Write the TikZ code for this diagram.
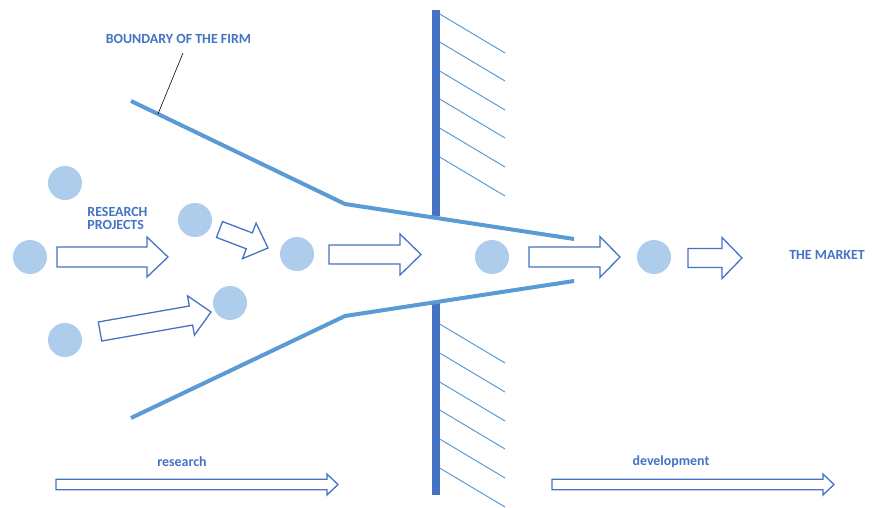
\documentclass[tikz,border=0pt]{standalone}
\usepackage{fontspec}
\setmainfont{Carlito}
\usepackage{tikz}
\usetikzlibrary{calc}
\usetikzlibrary{positioning}
\usepackage{xcolor}
\definecolor{firmblue}{RGB}{68,114,196}
\definecolor{edgeblue}{RGB}{91,155,213}
\definecolor{dotblue}{RGB}{174,204,235}

% hollow block arrow: tail, tip, half shaft, half head, head length
\newcommand{\hollowarrow}[5]{%
	\coordinate (hb) at ($(#2)!#5!(#1)$);
	\draw [fatarrow] ($(#1)!#3!90:(#2)$) -- ($(hb)!#3!90:(#2)$) -- ($(hb)!#4!90:(#2)$) -- (#2)
		-- ($(hb)!#4!-90:(#2)$) -- ($(hb)!#3!-90:(#2)$) -- ($(#1)!#3!-90:(#2)$) -- cycle;
}

\begin{document}
\begin{tikzpicture}[x=0.03cm,y=-0.03cm]

	\tikzstyle{dot} = [circle, fill=dotblue, minimum size=10.2mm, inner sep=0pt]
	\tikzstyle{fatarrow} = [draw=firmblue, fill=white, line width=1.1pt, line join=miter]
	\tikzstyle{edge} = [draw=edgeblue, line width=1.2mm]
	\tikzstyle{wall} = [draw=firmblue, line width=2.4mm]
	\tikzstyle{hatch} = [draw=edgeblue, line width=0.3mm]
	\tikzstyle{caption} = [text=firmblue, font=\fontsize{11.9}{11.2}\selectfont\bfseries, inner sep=1pt]

	\useasboundingbox (0,0) rectangle (883,508);

	% projects
	\node [dot] (p1) at (65,183) {};
	\node [dot] (p2) at (30,257) {};
	\node [dot] (p3) at (65,340) {};
	\node [dot] (p4) at (195,220) {};
	\node [dot] (p5) at (230,303) {};
	\node [dot] (p6) at (297,254) {};
	\node [dot] (p7) at (492,257) {};
	\node [dot] (p8) at (654,257) {};

	% wall with hatching
	\foreach \y in {13,41,70,98,127,156,323,352,381,409,438,467}
		\draw [hatch] (438,\y) -- ++(67,40);
	\draw [wall] (436,10) -- (436,216);
	\draw [wall] (436,303) -- (436,495);

	% boundary of the firm
	\coordinate (u1) at (131,101);
	\coordinate (u2) at (345,204);
	\coordinate (u3) at (574,239);
	\coordinate (l1) at (131,418);
	\coordinate (l2) at (345,316);
	\coordinate (l3) at (574,281);
	\draw [edge] (u1) -- (u2) -- (u3);
	\draw [edge] (l1) -- (l2) -- (l3);

	\node [caption] (firm) at (178.5,39) {BOUNDARY OF THE FIRM};
	\coordinate (tagtop) at (183,53);
	\coordinate (tag) at ($(u1)!0.126!(u2)$);
	\draw [black, line width=0.5pt] (tagtop) -- (tag);

	% Arrows
	\coordinate (a1s) at (57,257);    \coordinate (a1e) at (168,257);
	\coordinate (a2s) at (219.5,229.5); \coordinate (a2e) at (268,248);
	\coordinate (a3s) at (100,331.5); \coordinate (a3e) at (211,312);
	\coordinate (a4s) at (329,254.5); \coordinate (a4e) at (421,254.5);
	\coordinate (a5s) at (529,257);   \coordinate (a5e) at (620,257);
	\coordinate (a6s) at (688,258);   \coordinate (a6e) at (742,258);
	\hollowarrow{a1s}{a1e}{3mm}{6mm}{6.3mm}
	\hollowarrow{a2s}{a2e}{2.55mm}{5.7mm}{6mm}
	\hollowarrow{a3s}{a3e}{2.9mm}{6mm}{6.1mm}
	\hollowarrow{a4s}{a4e}{2.85mm}{6.15mm}{6.3mm}
	\hollowarrow{a5s}{a5e}{3mm}{6.1mm}{6mm}
	\hollowarrow{a6s}{a6e}{2.85mm}{6.15mm}{6mm}

	\node [caption, align=left, anchor=west] (projects) at (86,218.5) {RESEARCH\\PROJECTS};
	\node [caption] (market) at (827,255) {THE MARKET};

	% research / development
	\coordinate (rtail) at (56,484.5);  \coordinate (rtip) at (338,484.5);
	\coordinate (dtail) at (552,484.5); \coordinate (dtip) at (834,484.5);
	\hollowarrow{rtail}{rtip}{1.6mm}{3.15mm}{3.3mm}
	\hollowarrow{dtail}{dtip}{1.6mm}{3.15mm}{3.3mm}
	\node [caption] (res) at (182,462) {research};
	\node [caption] (dev) at (671,462) {development};

\end{tikzpicture}
\end{document}
